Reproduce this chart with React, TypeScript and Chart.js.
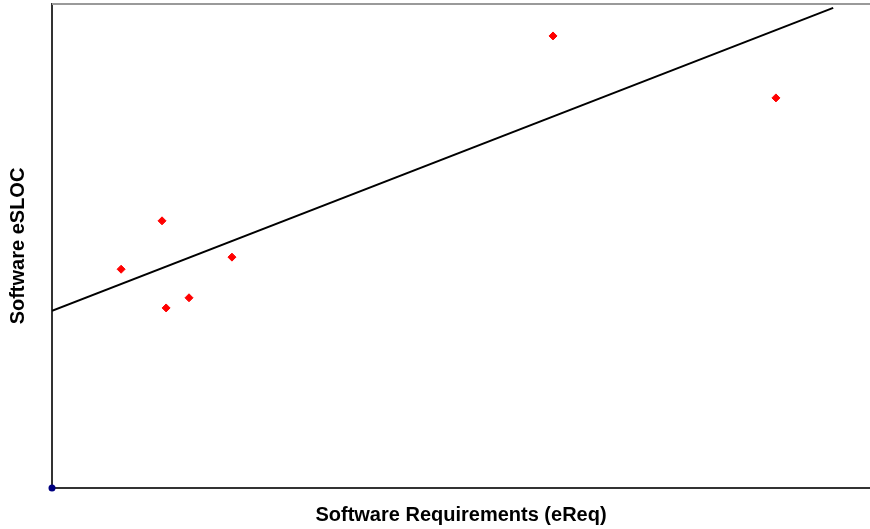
import React, { useEffect, useRef } from "react";
import { Chart, registerables } from "chart.js";

Chart.register(...registerables);

const reqValues = [16.9, 26.9, 27.9, 33.5, 44.0, 122.5, 177.0];
const slocValues = [45.2, 55.2, 37.2, 39.3, 47.7, 93.4, 80.6];
const originPoint = [0, 0];
const trendX = [0, 191];
const trendY = [36.6, 99.2];
const xTitle = "Software Requirements (eReq)";
const yTitle = "Software eSLOC";

const FONT = "'Liberation Sans', Arial, Helvetica, sans-serif";

const topBorder = {
  id: "topBorder",
  afterDraw(chart: any) {
    const { ctx, chartArea } = chart;
    ctx.save();
    ctx.strokeStyle = "#9a9a9a";
    ctx.lineWidth = 2;
    ctx.beginPath();
    ctx.moveTo(chartArea.left, chartArea.top);
    ctx.lineTo(chart.width, chartArea.top);
    ctx.stroke();
    ctx.restore();
  },
};

export default function App() {
  const ref = useRef<HTMLCanvasElement | null>(null);
  useEffect(() => {
    if (!ref.current) return;
    const chart = new Chart(ref.current, {
      type: "scatter",
      data: {
        datasets: [
          {
            label: "Trend",
            type: "line",
            data: trendX.map((x, i) => ({ x, y: trendY[i] })),
            borderColor: "#000000",
            borderWidth: 2,
            pointRadius: 0,
            fill: false,
          },
          {
            label: "Projects",
            data: reqValues.map((x, i) => ({ x, y: slocValues[i] })),
            pointStyle: "rectRot",
            pointRadius: 4,
            backgroundColor: "#ff0000",
            borderColor: "#ff0000",
            borderWidth: 1,
          },
          {
            label: "Origin",
            data: [{ x: originPoint[0], y: originPoint[1] }],
            pointStyle: "circle",
            pointRadius: 3.5,
            backgroundColor: "#000080",
            borderColor: "#000080",
            borderWidth: 0,
            clip: false,
          } as any,
        ],
      },
      options: {
        animation: false,
        responsive: true,
        maintainAspectRatio: false,
        layout: { autoPadding: false, padding: { left: 0, top: 4, right: 0, bottom: 0 } },
        plugins: {
          legend: { display: false },
          tooltip: { enabled: false },
        },
        scales: {
          x: {
            type: "linear",
            min: 0,
            max: 200,
            ticks: { display: false },
            grid: { display: false, drawTicks: false },
            border: { display: true, color: "#333333", width: 2 },
            title: {
              display: true,
              text: xTitle,
              color: "#000000",
              font: { family: FONT, size: 20, weight: "bold" },
              padding: { top: 15, bottom: 2 },
            },
          },
          y: {
            type: "linear",
            min: 0,
            max: 100,
            ticks: { display: false },
            grid: { display: false, drawTicks: false },
            border: { display: true, color: "#333333", width: 2 },
            title: {
              display: true,
              text: yTitle,
              color: "#000000",
              font: { family: FONT, size: 20, weight: "bold" },
              padding: { top: 6, bottom: 22 },
            },
          },
        },
      },
      plugins: [topBorder],
    });
    return () => chart.destroy();
  }, []);
  return (
    <div style={{ position: "fixed", left: 0, top: 0, width: 870, height: 529, background: "#fff" }}>
      <canvas ref={ref} />
    </div>
  );
}
